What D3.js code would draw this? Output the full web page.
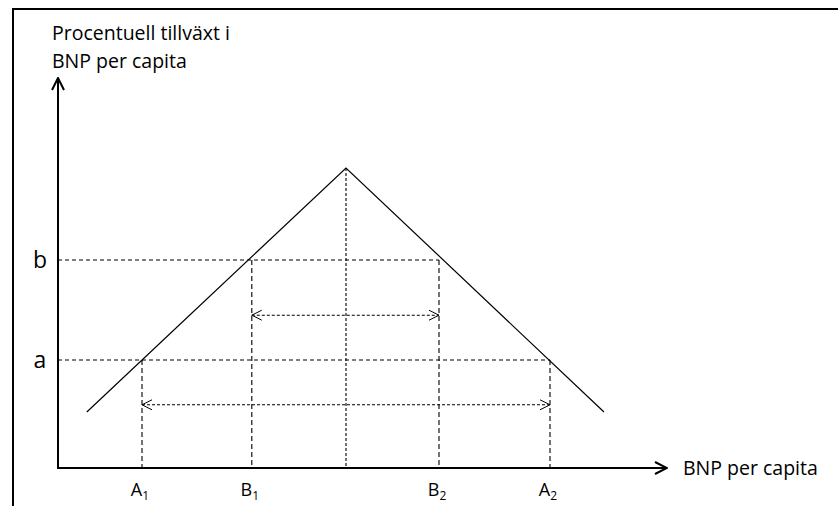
<!DOCTYPE html>
<html>
<head>
<meta charset="utf-8">
<script src="https://cdn.jsdelivr.net/npm/d3@7"></script>
<style>
  body { margin: 0; background: #fff; }
  text { font-family: "Open Sans", Lato, sans-serif; fill: #000; }
</style>
</head>
<body>
<svg id="chart"></svg>
<script>
// data (axis units: 0..100 on both axes)
const mountain = [{x: 4.8, y: 14}, {x: 48, y: 75}, {x: 91, y: 14}];
const levels = [{name: "b", y: 52, x2: 63.5}, {name: "a", y: 27, x2: 82}];
const ticks = [
    {name: "A", sub: "1", x: 14, y: 27},
    {name: "B", sub: "1", x: 32.3, y: 52},
    {name: "B", sub: "2", x: 63.5, y: 52},
    {name: "A", sub: "2", x: 82, y: 27}
];
const spans = [{x1: 32.3, x2: 63.5, y: 38.2}, {x1: 14, x2: 82, y: 15.8}];
const yTitle = ["Procentuell tillväxt i", "BNP per capita"];
const xTitle = "BNP per capita";

const config = {width: 838, height: 506};

const svg = d3.select("#chart")
    .attr("width", config.width)
    .attr("height", config.height);

const xScale = d3.scaleLinear().domain([0, 100]).range([58, 658]);
const yScale = d3.scaleLinear().domain([0, 100]).range([468, 68]);

// markers
const defs = svg.append("defs");
function chevron(id, size, width) {
    defs.append("marker")
        .attr("id", id)
        .attr("viewBox", `0 0 ${size} ${size}`)
        .attr("refX", size - 1)
        .attr("refY", size / 2)
        .attr("markerWidth", size)
        .attr("markerHeight", size)
        .attr("markerUnits", "userSpaceOnUse")
        .attr("orient", "auto-start-reverse")
        .append("path")
        .attr("d", `M1,1 L${size - 1},${size / 2} L1,${size - 1}`)
        .attr("fill", "none")
        .attr("stroke", "#000")
        .attr("stroke-width", width);
}
chevron("axisArrow", 14, 2);
chevron("spanArrow", 12, 1);

// frame (top and left edges)
svg.append("path")
    .attr("d", `M13,${config.height} L13,9 L${config.width},9`)
    .attr("fill", "none")
    .attr("stroke", "#000")
    .attr("stroke-width", 2);

// horizontal dashed levels
svg.selectAll(".level")
    .data(levels)
    .join("line")
    .attr("x1", xScale(0))
    .attr("x2", d => xScale(d.x2))
    .attr("y1", d => yScale(d.y))
    .attr("y2", d => yScale(d.y))
    .attr("stroke", "#000")
    .attr("stroke-width", 1.1)
    .attr("stroke-dasharray", "4,3");

svg.selectAll(".levelLabel")
    .data(levels)
    .join("text")
    .attr("x", 40)
    .attr("y", d => yScale(d.y) + 8)
    .attr("text-anchor", "middle")
    .attr("font-size", "23px")
    .text(d => d.name);

// vertical dashed lines
svg.selectAll(".vline")
    .data(ticks)
    .join("line")
    .attr("x1", d => xScale(d.x))
    .attr("x2", d => xScale(d.x))
    .attr("y1", d => yScale(d.y))
    .attr("y2", yScale(0))
    .attr("stroke", "#000")
    .attr("stroke-width", 1.1)
    .attr("stroke-dasharray", "5,3");

svg.append("line")
    .attr("x1", xScale(mountain[1].x))
    .attr("x2", xScale(mountain[1].x))
    .attr("y1", yScale(mountain[1].y))
    .attr("y2", yScale(0))
    .attr("stroke", "#000")
    .attr("stroke-width", 1.1)
    .attr("stroke-dasharray", "3,2");

// double arrows
svg.selectAll(".span")
    .data(spans)
    .join("line")
    .attr("x1", d => xScale(d.x1))
    .attr("x2", d => xScale(d.x2))
    .attr("y1", d => yScale(d.y))
    .attr("y2", d => yScale(d.y))
    .attr("stroke", "#000")
    .attr("stroke-width", 1.1)
    .attr("stroke-dasharray", "3,2")
    .attr("marker-start", "url(#spanArrow)")
    .attr("marker-end", "url(#spanArrow)");

// mountain line
const line = d3.line()
    .x(d => xScale(d.x))
    .y(d => yScale(d.y));

svg.append("path")
    .datum(mountain)
    .attr("d", line)
    .attr("fill", "none")
    .attr("stroke", "#000")
    .attr("stroke-width", 1.2);

// axes
svg.append("line")
    .attr("x1", xScale(0))
    .attr("y1", yScale(0))
    .attr("x2", xScale(0))
    .attr("y2", 78)
    .attr("stroke", "#000")
    .attr("stroke-width", 2)
    .attr("marker-end", "url(#axisArrow)");

svg.append("line")
    .attr("x1", xScale(0) - 1)
    .attr("y1", yScale(0))
    .attr("x2", 667)
    .attr("y2", yScale(0))
    .attr("stroke", "#000")
    .attr("stroke-width", 2)
    .attr("marker-end", "url(#axisArrow)");

// tick labels with subscripts
const tickText = svg.selectAll(".tickLabel")
    .data(ticks)
    .join("text")
    .attr("x", d => xScale(d.x) - 2)
    .attr("y", 496)
    .attr("text-anchor", "middle")
    .attr("font-size", "18px");
tickText.append("tspan").text(d => d.name);
tickText.append("tspan")
    .attr("font-size", "12px")
    .attr("dy", 4)
    .text(d => d.sub);

// titles
svg.selectAll(".yTitle")
    .data(yTitle)
    .join("text")
    .attr("x", 52)
    .attr("y", (d, i) => 40 + i * 28)
    .attr("font-size", "19.5px")
    .text(d => d);

svg.append("text")
    .attr("x", 683)
    .attr("y", 475)
    .attr("font-size", "19.5px")
    .text(xTitle);
</script>
</body>
</html>
